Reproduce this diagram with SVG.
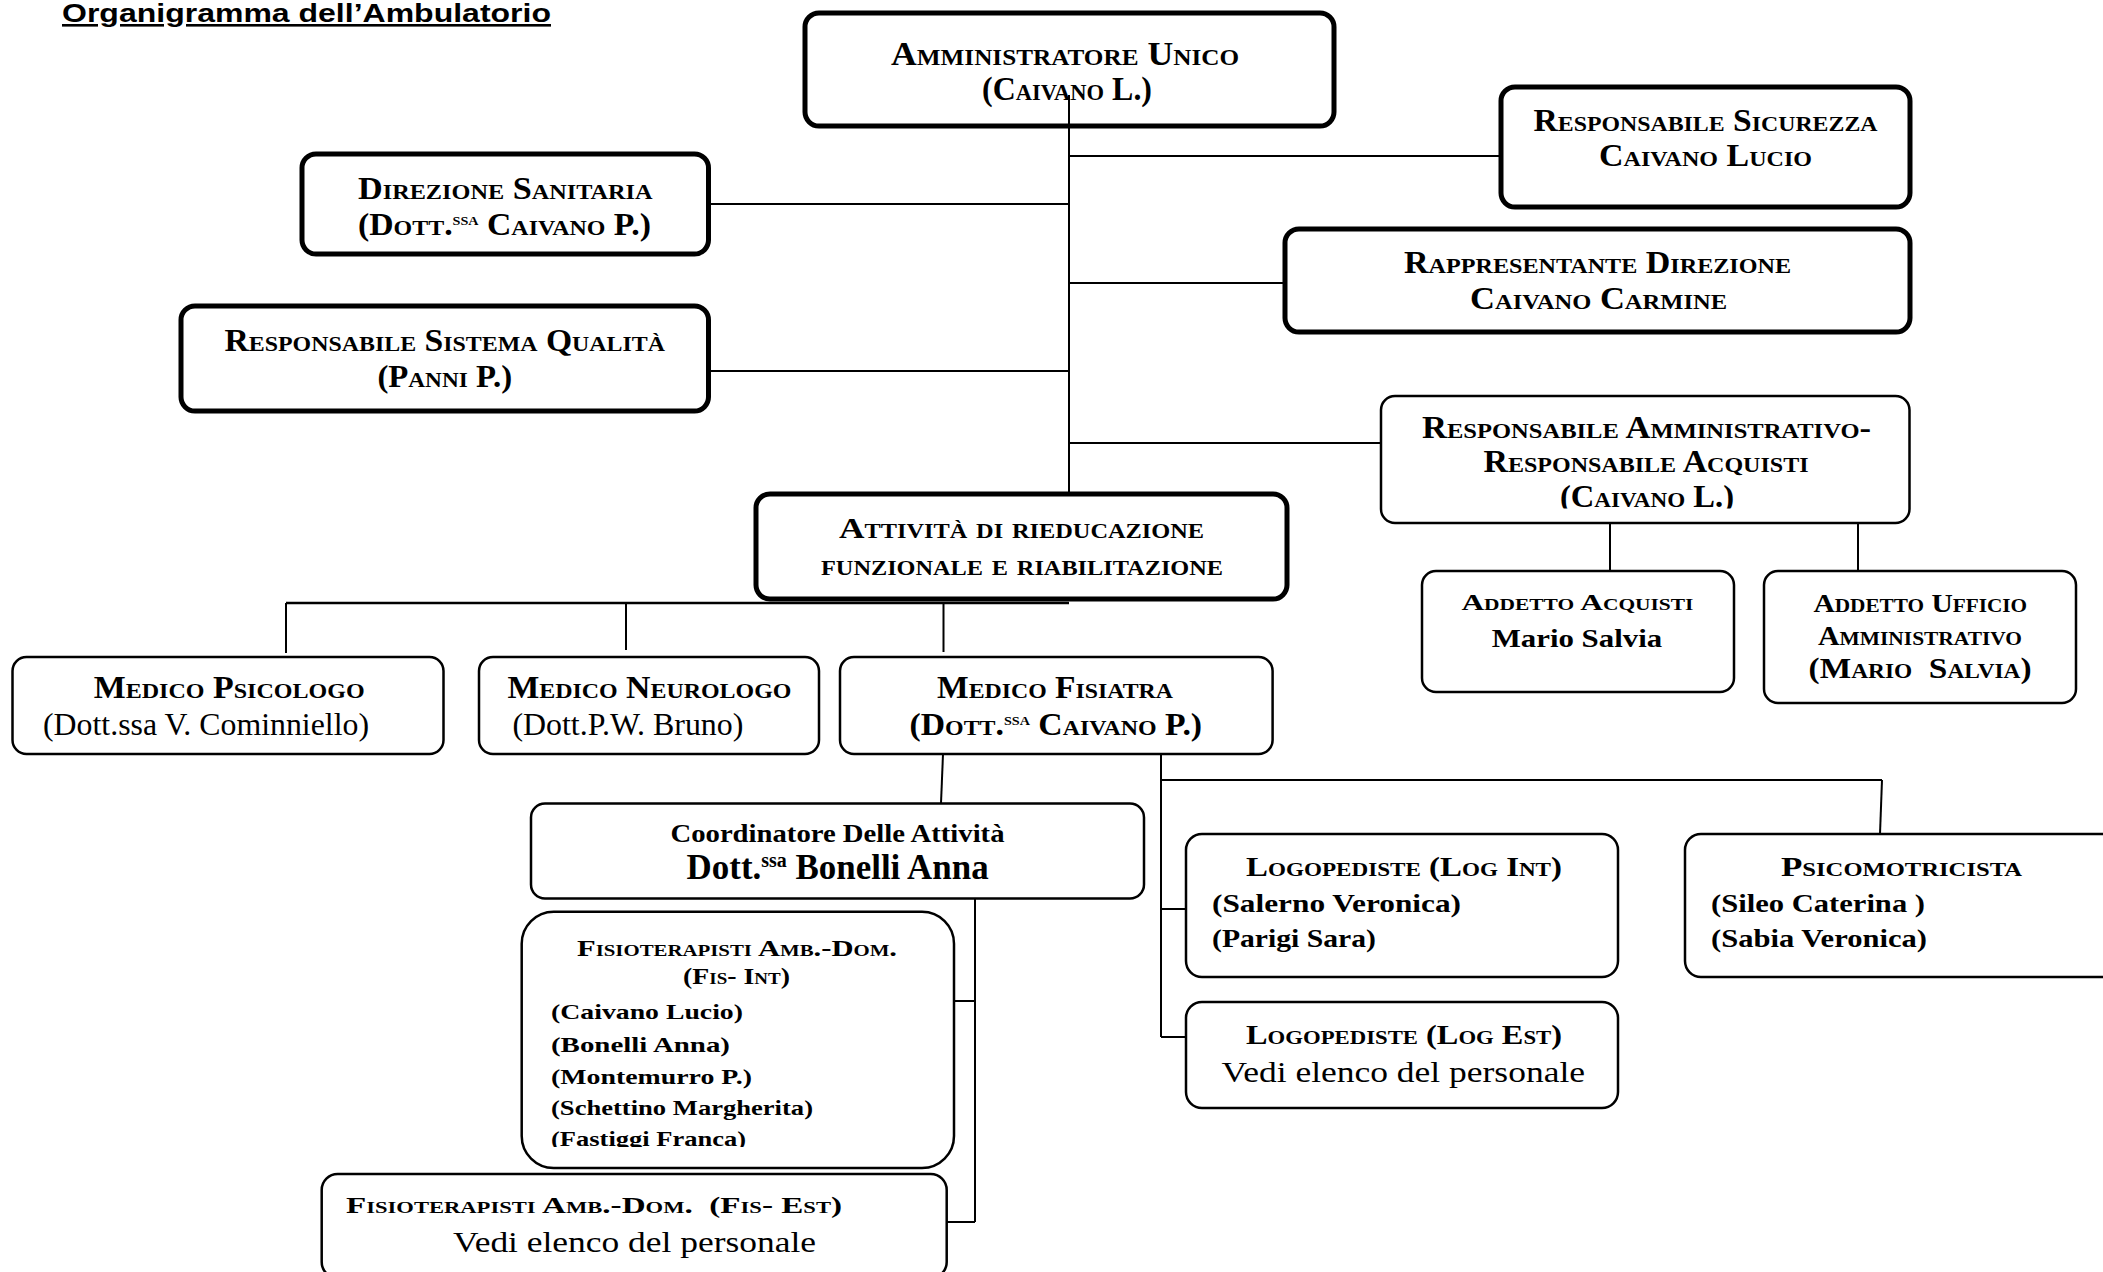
<svg xmlns="http://www.w3.org/2000/svg" width="2103" height="1272" viewBox="0 0 2103 1272">
<style>
.box{fill:#fff;stroke:#000;stroke-width:2.5}
.thick{stroke-width:5}
.conn line{stroke:#000;stroke-width:2;fill:none}
text{font-family:"Liberation Serif","DejaVu Serif",serif;fill:#000}
.sc{font-variant:small-caps;font-weight:bold}
.b{font-weight:bold}
.title{font-family:"Liberation Sans",Arial,sans-serif;font-weight:bold;text-decoration:underline}
</style>
<defs>
<clipPath id="clipAmm"><rect x="1381" y="396" width="529" height="112.5"/></clipPath>
<clipPath id="clipFis"><rect x="521" y="911" width="433" height="236"/></clipPath>
</defs>
<rect x="0" y="0" width="2103" height="1272" fill="#fff"/>

<g id="title">
<text class="title" x="62" y="22" font-size="26" textLength="489" lengthAdjust="spacingAndGlyphs">Organigramma dell’Ambulatorio</text>
</g>

<g id="n-amministratore">
<rect class="box thick" x="805" y="13" width="529" height="113" rx="14"/>
<text class="sc" x="891" y="65" font-size="34" textLength="348" lengthAdjust="spacingAndGlyphs">Amministratore Unico</text>
<text class="sc" x="982" y="100" font-size="34" textLength="170" lengthAdjust="spacingAndGlyphs">(Caivano L.)</text>
</g>

<g id="n-sicurezza">
<rect class="box thick" x="1501" y="87" width="409" height="120" rx="14"/>
<text class="sc" x="1533.5" y="131" font-size="31" textLength="344" lengthAdjust="spacingAndGlyphs">Responsabile Sicurezza</text>
<text class="sc" x="1599" y="166" font-size="31" textLength="213" lengthAdjust="spacingAndGlyphs">Caivano Lucio</text>
</g>

<g id="n-rappresentante">
<rect class="box thick" x="1285" y="229" width="625" height="103" rx="14"/>
<text class="sc" x="1404" y="273" font-size="31" textLength="387" lengthAdjust="spacingAndGlyphs">Rappresentante Direzione</text>
<text class="sc" x="1470" y="309" font-size="31" textLength="257" lengthAdjust="spacingAndGlyphs">Caivano Carmine</text>
</g>

<g id="n-direzione">
<rect class="box thick" x="302" y="154" width="406.5" height="100" rx="14"/>
<text class="sc" x="358" y="199" font-size="31" textLength="294.6" lengthAdjust="spacingAndGlyphs">Direzione Sanitaria</text>
<text class="sc" x="358" y="235" font-size="31" textLength="293" lengthAdjust="spacingAndGlyphs">(Dott.<tspan font-size="18" dy="-10">ssa</tspan><tspan dy="10"> Caivano P.)</tspan></text>
</g>

<g id="n-qualita">
<rect class="box thick" x="181" y="306" width="527.5" height="105" rx="14"/>
<text class="sc" x="224.5" y="351" font-size="31" textLength="440.5" lengthAdjust="spacingAndGlyphs">Responsabile Sistema Qualità</text>
<text class="sc" x="377.4" y="387" font-size="31" textLength="134.7" lengthAdjust="spacingAndGlyphs">(Panni P.)</text>
</g>

<g id="n-amministrativo">
<rect class="box" x="1381" y="396" width="528.5" height="127" rx="14"/>
<text class="sc" x="1422" y="438" font-size="31" textLength="449" lengthAdjust="spacingAndGlyphs">Responsabile Amministrativo-</text>
<text class="sc" x="1483.5" y="472" font-size="31" textLength="325" lengthAdjust="spacingAndGlyphs">Responsabile Acquisti</text>
<text class="sc" x="1560" y="507" font-size="31" textLength="174" lengthAdjust="spacingAndGlyphs" clip-path="url(#clipAmm)">(Caivano L.)</text>
</g>

<g id="n-addetto-acquisti">
<rect class="box" x="1422" y="571" width="312" height="121" rx="14"/>
<text class="sc" x="1461.4" y="610" font-size="23.5" textLength="232" lengthAdjust="spacingAndGlyphs">Addetto Acquisti</text>
<text class="b" x="1491.7" y="647" font-size="25.5" textLength="170.5" lengthAdjust="spacingAndGlyphs">Mario Salvia</text>
</g>

<g id="n-addetto-ufficio">
<rect class="box" x="1764" y="571" width="312" height="132" rx="14"/>
<text class="sc" x="1813.4" y="612" font-size="25" textLength="213.7" lengthAdjust="spacingAndGlyphs">Addetto Ufficio</text>
<text class="sc" x="1818" y="645" font-size="26.5" textLength="204" lengthAdjust="spacingAndGlyphs">Amministrativo</text>
<text class="sc" x="1808.6" y="678" font-size="30" textLength="223" lengthAdjust="spacingAndGlyphs">(Mario&#160; Salvia)</text>
</g>

<g id="n-attivita">
<rect class="box thick" x="756" y="494" width="531" height="105" rx="14"/>
<text class="sc" x="839" y="538" font-size="29" textLength="365" lengthAdjust="spacingAndGlyphs">Attività di rieducazione</text>
<text class="sc" x="821" y="575" font-size="29" textLength="402" lengthAdjust="spacingAndGlyphs">funzionale e riabilitazione</text>
</g>

<g id="n-psicologo">
<rect class="box" x="12.5" y="657" width="431" height="97" rx="14"/>
<text class="sc" x="93.7" y="698" font-size="31" textLength="271" lengthAdjust="spacingAndGlyphs">Medico Psicologo</text>
<text x="43" y="735" font-size="31" textLength="326" lengthAdjust="spacingAndGlyphs">(Dott.ssa V. Cominniello)</text>
</g>

<g id="n-neurologo">
<rect class="box" x="479" y="657" width="340" height="97" rx="14"/>
<text class="sc" x="507.4" y="698" font-size="31" textLength="284" lengthAdjust="spacingAndGlyphs">Medico Neurologo</text>
<text x="512.4" y="735" font-size="31" textLength="231" lengthAdjust="spacingAndGlyphs">(Dott.P.W. Bruno)</text>
</g>

<g id="n-fisiatra">
<rect class="box" x="840" y="657" width="432.6" height="97" rx="14"/>
<text class="sc" x="937" y="698" font-size="31" textLength="236" lengthAdjust="spacingAndGlyphs">Medico Fisiatra</text>
<text class="sc" x="909.5" y="735" font-size="31" textLength="292.6" lengthAdjust="spacingAndGlyphs">(Dott.<tspan font-size="18" dy="-10">ssa</tspan><tspan dy="10"> Caivano P.)</tspan></text>
</g>

<g id="n-coordinatore">
<rect class="box" x="531" y="803.5" width="613" height="95" rx="14"/>
<text class="b" x="670.5" y="842" font-size="26" textLength="334" lengthAdjust="spacingAndGlyphs">Coordinatore Delle Attività</text>
<text class="b" x="686.6" y="879" font-size="35" textLength="302" lengthAdjust="spacingAndGlyphs">Dott.<tspan font-size="20" dy="-12">ssa</tspan><tspan dy="12"> Bonelli Anna</tspan></text>
</g>

<g id="n-fis-int">
<rect class="box" x="521.7" y="911.7" width="432.3" height="256.3" rx="32"/>
<text class="sc" x="577" y="956" font-size="23.5" textLength="320" lengthAdjust="spacingAndGlyphs">Fisioterapisti Amb.-Dom.</text>
<text class="sc" x="683" y="984" font-size="23.5" textLength="107" lengthAdjust="spacingAndGlyphs">(Fis- Int)</text>
<text class="b" x="551" y="1019" font-size="22" textLength="192" lengthAdjust="spacingAndGlyphs">(Caivano Lucio)</text>
<text class="b" x="551" y="1052" font-size="22" textLength="179" lengthAdjust="spacingAndGlyphs">(Bonelli Anna)</text>
<text class="b" x="551" y="1084" font-size="22" textLength="201" lengthAdjust="spacingAndGlyphs">(Montemurro P.)</text>
<text class="b" x="551" y="1115" font-size="21" textLength="262" lengthAdjust="spacingAndGlyphs">(Schettino Margherita)</text>
<text class="b" x="551" y="1146" font-size="22" textLength="195" lengthAdjust="spacingAndGlyphs" clip-path="url(#clipFis)">(Fastiggi Franca)</text>
</g>

<g id="n-fis-est">
<rect class="box" x="321.7" y="1174" width="625" height="104" rx="16"/>
<text class="sc" x="346" y="1213" font-size="23.5" textLength="496" lengthAdjust="spacingAndGlyphs">Fisioterapisti Amb.-Dom.&#160; (Fis- Est)</text>
<text x="453" y="1252" font-size="29" textLength="363" lengthAdjust="spacingAndGlyphs">Vedi elenco del personale</text>
</g>

<g id="n-log-int">
<rect class="box" x="1186" y="834" width="432" height="143" rx="16"/>
<text class="sc" x="1246" y="876" font-size="27" textLength="316" lengthAdjust="spacingAndGlyphs">Logopediste (Log Int)</text>
<text class="b" x="1212" y="912" font-size="25" textLength="249" lengthAdjust="spacingAndGlyphs">(Salerno Veronica)</text>
<text class="b" x="1212" y="947" font-size="25" textLength="164" lengthAdjust="spacingAndGlyphs">(Parigi Sara)</text>
</g>

<g id="n-log-est">
<rect class="box" x="1186" y="1002" width="432" height="106" rx="16"/>
<text class="sc" x="1246" y="1044" font-size="27" textLength="316" lengthAdjust="spacingAndGlyphs">Logopediste (Log Est)</text>
<text x="1221.5" y="1082" font-size="29" textLength="363.5" lengthAdjust="spacingAndGlyphs">Vedi elenco del personale</text>
</g>

<g id="n-psicomotricista">
<rect class="box" x="1685" y="834" width="440" height="143" rx="16"/>
<text class="sc" x="1781" y="876" font-size="27" textLength="241" lengthAdjust="spacingAndGlyphs">Psicomotricista</text>
<text class="b" x="1711" y="912" font-size="25" textLength="214" lengthAdjust="spacingAndGlyphs">(Sileo Caterina )</text>
<text class="b" x="1711" y="947" font-size="25" textLength="216" lengthAdjust="spacingAndGlyphs">(Sabia Veronica)</text>
</g>

<g id="connectors" class="conn">
<line x1="1069" y1="95" x2="1069" y2="494"/>
<line x1="1069" y1="156" x2="1501" y2="156"/>
<line x1="708.5" y1="204" x2="1069" y2="204"/>
<line x1="1069" y1="283" x2="1285" y2="283"/>
<line x1="708.5" y1="371" x2="1069" y2="371"/>
<line x1="1069" y1="443" x2="1381" y2="443"/>
<line x1="1610" y1="523" x2="1610" y2="571"/>
<line x1="1858" y1="523" x2="1858" y2="571"/>
<line x1="286" y1="603" x2="1069" y2="603" style="stroke-width:2.5"/>
<line x1="286" y1="603" x2="286" y2="653"/>
<line x1="626" y1="603" x2="626" y2="650"/>
<line x1="943.5" y1="603" x2="943.5" y2="652"/>
<line x1="943" y1="754" x2="941" y2="803.5"/>
<line x1="1161" y1="754" x2="1161" y2="1037"/>
<line x1="1161" y1="780" x2="1882" y2="780"/>
<line x1="1882" y1="780" x2="1880" y2="834"/>
<line x1="1161" y1="909" x2="1186" y2="909"/>
<line x1="1161" y1="1037" x2="1186" y2="1037"/>
<line x1="975" y1="898.5" x2="975" y2="1222"/>
<line x1="954" y1="1001" x2="975" y2="1001"/>
<line x1="947" y1="1222" x2="975" y2="1222"/>
</g>
</svg>
